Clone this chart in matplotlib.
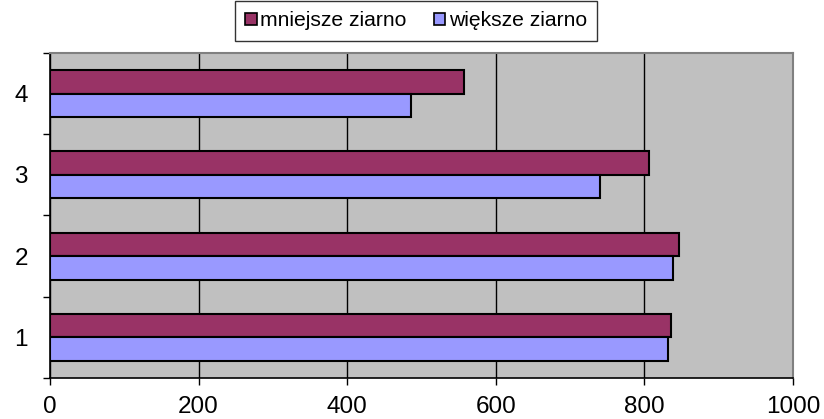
import numpy as np
import matplotlib.pyplot as plt
from matplotlib.patches import Patch

plt.rcParams['font.family'] = ['Liberation Sans', 'DejaVu Sans']

# data
categories = ['1', '2', '3', '4']
mniejsze = [836, 846, 806, 557]
wieksze = [832, 838, 740, 486]

c_small = '#993366'
c_big = '#9999FF'
bar_h = 0.29

fig = plt.figure(figsize=(8.24, 4.19), dpi=100)
ax = fig.add_axes([50 / 824, 1 - 378 / 419, 743 / 824, 325 / 419])
ax.set_facecolor('#C0C0C0')

y = np.arange(1, len(categories) + 1)
ax.barh(y + bar_h / 2, mniejsze, height=bar_h, color=c_small,
        edgecolor='black', linewidth=1.5, zorder=3)
ax.barh(y - bar_h / 2, wieksze, height=bar_h, color=c_big,
        edgecolor='black', linewidth=1.5, zorder=3)

ax.set_xlim(0, 1000)
ax.set_ylim(0.5, len(categories) + 0.5)
ax.set_xticks(np.arange(0, 1001, 200))
ax.set_yticks(y)
ax.set_yticklabels(categories)
ax.set_yticks(np.arange(0.5, len(categories) + 1, 1), minor=True)

ax.tick_params(axis='x', length=5, width=1, labelsize=17.5, pad=8)
ax.tick_params(axis='y', which='major', length=0, labelsize=17.5, pad=16)
ax.tick_params(axis='y', which='minor', length=5, width=1)

ax.grid(axis='x', color='black', linewidth=1, zorder=1)
for s in ['top', 'right']:
    ax.spines[s].set_color('#808080')
    ax.spines[s].set_linewidth(1.5)
for s in ['left', 'bottom']:
    ax.spines[s].set_color('black')
    ax.spines[s].set_linewidth(1.2)

handles = [Patch(facecolor=c_small, edgecolor='black', linewidth=1.2, label='mniejsze ziarno'),
           Patch(facecolor=c_big, edgecolor='black', linewidth=1.2, label='większe ziarno')]
leg = fig.legend(handles=handles, loc='center', bbox_to_anchor=(416 / 824, 1 - 21 / 419),
                 ncol=2, fontsize=15.2, frameon=True, fancybox=False,
                 handlelength=0.55, handleheight=0.55, handletextpad=0.15,
                 columnspacing=1.3, borderpad=0.5, borderaxespad=0)
leg.get_frame().set_edgecolor('black')
leg.get_frame().set_linewidth(1)

fig.savefig('out.png', dpi=100)
